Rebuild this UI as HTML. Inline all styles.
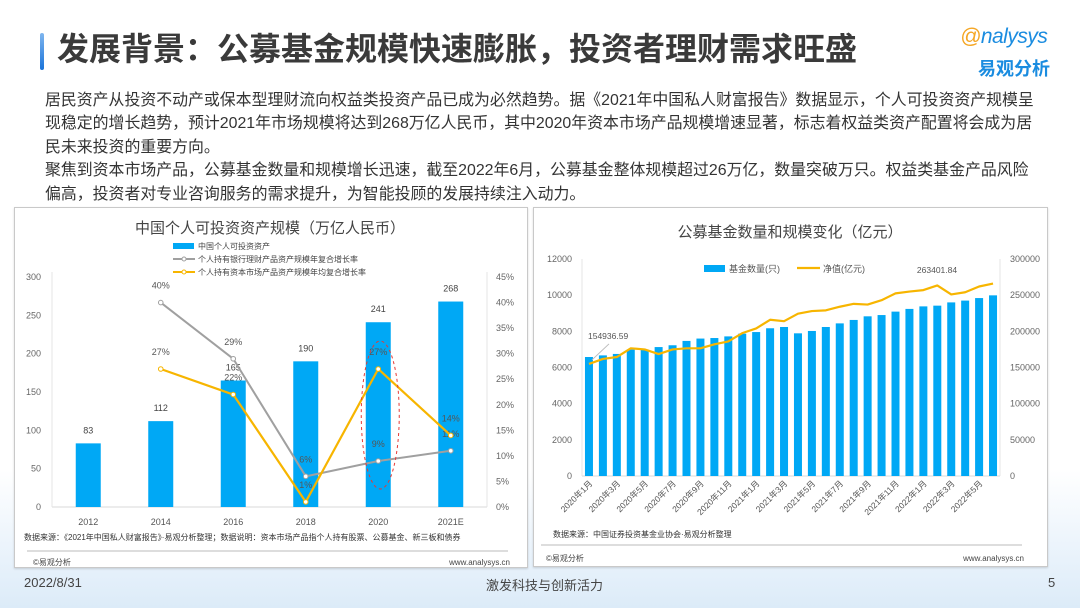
<!DOCTYPE html>
<html><head><meta charset="utf-8">
<style>
html,body{margin:0;padding:0}
body{width:1080px;height:608px;position:relative;overflow:hidden;background:linear-gradient(#fff 0,#fff 470px,#e8f2fb 560px,#dcebf8 608px);font-family:"Liberation Sans","Noto Sans CJK SC",sans-serif;color:#333}
.bar{position:absolute;left:40px;top:33px;width:4px;height:37px;border-radius:2px;background:linear-gradient(#7fb6ef,#1a73d9)}
.title{position:absolute;left:57px;top:30px;font-size:32px;line-height:38px;font-weight:bold;color:#3a3a3a;white-space:nowrap}
.logo1{position:absolute;left:960px;top:25px;font-size:21px;color:#1a8ce0;font-style:italic;letter-spacing:-0.5px}
.logo1 b{color:#f5a623;font-weight:normal}
.logo2{position:absolute;left:978px;top:55px;font-size:18px;color:#1a8ce0;font-weight:bold}
.para{position:absolute;left:45px;top:89px;width:1010px;font-size:15.9px;line-height:23.4px;color:#333;white-space:nowrap}
.panel{position:absolute;background:#fff;border:1px solid #c9c9c9;box-shadow:0 1px 2px rgba(0,0,0,.15)}
svg{position:absolute;left:0;top:0}
.foot{position:absolute;top:575px;font-size:13px;color:#444}
</style></head><body>
<div class="bar"></div>
<div class="title">发展背景：公募基金规模快速膨胀，投资者理财需求旺盛</div>
<div class="logo1"><b>@</b>nalysys</div>
<div class="logo2">易观分析</div>
<div class="para">居民资产从投资不动产或保本型理财流向权益类投资产品已成为必然趋势。据《2021年中国私人财富报告》数据显示，个人可投资资产规模呈<br>现稳定的增长趋势，预计2021年市场规模将达到268万亿人民币，其中2020年资本市场产品规模增速显著，标志着权益类资产配置将会成为居<br>民未来投资的重要方向。<br>聚焦到资本市场产品，公募基金数量和规模增长迅速，截至2022年6月，公募基金整体规模超过26万亿，数量突破万只。权益类基金产品风险<br>偏高，投资者对专业咨询服务的需求提升，为智能投顾的发展持续注入动力。</div>
<div class="panel" style="left:14px;top:207px;width:512px;height:359px"></div>
<div class="panel" style="left:533px;top:207px;width:513px;height:358px"></div>
<div class="foot" style="left:24px">2022/8/31</div>
<div class="foot" style="left:486px">激发科技与创新活力</div>
<div class="foot" style="left:1048px">5</div>
<svg id="chart" width="1080" height="608"></svg>
<script>
// Left chart data
const leftCats = ["2012","2014","2016","2018","2020","2021E"];
const leftAssets = [83,112,165,190,241,268];
const leftBank = [null,40,29,6,9,11];
const leftCapital = [null,27,22,1,27,14];
const leftYTicks = [0,50,100,150,200,250,300];
const leftY2Ticks = [0,5,10,15,20,25,30,35,40,45];
// Right chart data
const rightCats = ["2020年1月","2020年2月","2020年3月","2020年4月","2020年5月","2020年6月","2020年7月","2020年8月","2020年9月","2020年10月","2020年11月","2020年12月","2021年1月","2021年2月","2021年3月","2021年4月","2021年5月","2021年6月","2021年7月","2021年8月","2021年9月","2021年10月","2021年11月","2021年12月","2022年1月","2022年2月","2022年3月","2022年4月","2022年5月","2022年6月"];
const fundCount = [6580,6670,6750,6990,6990,7130,7230,7470,7600,7630,7720,7870,7960,8170,8240,7890,8020,8240,8440,8630,8830,8900,9090,9240,9380,9420,9600,9700,9840,9990];
const netValue = [154936.59,161800,164500,176500,175000,168600,175000,176500,176500,182000,186000,197500,204000,216000,214000,224400,228000,229000,234000,238000,237000,243000,252500,255000,257000,263401.84,251000,254000,262000,266000];
const rightYTicks = [0,2000,4000,6000,8000,10000,12000];
const rightY2Ticks = [0,50000,100000,150000,200000,250000,300000];

const svg=document.getElementById('chart');
const NS='http://www.w3.org/2000/svg';
function mk(tag,attrs,parent){const e=document.createElementNS(NS,tag);for(const k in attrs)e.setAttribute(k,attrs[k]);(parent||svg).appendChild(e);return e;}
function txt(s,x,y,size,fill,anchor,extra){const t=mk('text',Object.assign({x:x,y:y,'font-size':size,fill:fill,'text-anchor':anchor||'start','font-family':'"Liberation Sans","Noto Sans CJK SC",sans-serif'},extra||{}));t.textContent=s;return t;}

// ---------- LEFT CHART ----------
const L={x0:52,x1:487,y0:507,y1:277,max:300,max2:45};
const lx=i=>L.x0+(L.x1-L.x0)/leftCats.length*(i+0.5);
const ly=v=>L.y0-(v/L.max)*(L.y0-L.y1);
const ly2=v=>L.y0-(v/L.max2)*(L.y0-L.y1);
let t;
t=txt("中国个人可投资资产规模（万亿人民币）",270,233,15,'#444','middle');


let ax=mk('line',{x1:L.x0,y1:L.y0,x2:L.x1,y2:L.y0,stroke:'#d9d9d9'});


mk('line',{x1:L.x0,y1:L.y1-5,x2:L.x0,y2:L.y0,stroke:'#e5e5e5'});
mk('line',{x1:L.x1,y1:L.y1-5,x2:L.x1,y2:L.y0,stroke:'#e5e5e5'});
leftYTicks.forEach(v=>{const e=txt(v,41,ly(v)+3,9,'#666','end');

});
leftY2Ticks.forEach(v=>{const e=txt(v+'%',496,ly2(v)+3,9,'#666','start');

});
leftCats.forEach((c,i)=>{const e=txt(c,lx(i),525,9,'#555','middle');

});
leftAssets.forEach((v,i)=>{
 const r=mk('rect',{x:lx(i)-12.5,y:ly(v),width:25,height:L.y0-ly(v),fill:'#00a8f5'});
 
 
 const e=txt(v,lx(i),ly(v)-10,9,'#444','middle');
 
 
});
function lineSeries(arr,color,name,w){
 let d='';arr.forEach((v,i)=>{if(v==null)return;d+=(d?'L':'M')+lx(i)+' '+ly2(v);});
 const p=mk('path',{d:d,fill:'none',stroke:color,'stroke-width':w});
 
 
 arr.forEach((v,i)=>{if(v==null)return;
  const c=mk('circle',{cx:lx(i),cy:ly2(v),r:2.3,fill:'#fff',stroke:color,'stroke-width':1});
  
  
  const e=txt(v+'%',lx(i),ly2(v)-14,9,'#555','middle');
  
  
 });
}
lineSeries(leftBank,'#a0a0a0','bank-growth',2);
lineSeries(leftCapital,'#f7b500','capital-growth',2.2);
let el=mk('ellipse',{cx:lx(4)+2,cy:415,rx:19,ry:74,fill:'none',stroke:'#e53935','stroke-dasharray':'3,3','stroke-width':1});


// legend
mk('rect',{x:173,y:243,width:21,height:6,fill:'#00a8f5'});
t=txt("中国个人可投资资产",198,249,8,'#444');


mk('line',{x1:173,y1:259,x2:195,y2:259,stroke:'#a0a0a0','stroke-width':2});
mk('circle',{cx:184,cy:259,r:2,fill:'#fff',stroke:'#a0a0a0'});
t=txt("个人持有银行理财产品资产规模年复合增长率",198,262,8,'#444');


mk('line',{x1:173,y1:272,x2:195,y2:272,stroke:'#f7b500','stroke-width':2});
mk('circle',{cx:184,cy:272,r:2,fill:'#fff',stroke:'#f7b500'});
t=txt("个人持有资本市场产品资产规模年均复合增长率",198,275,8,'#444');


t=txt("数据来源：《2021年中国私人财富报告》·易观分析整理；数据说明：资本市场产品指个人持有股票、公募基金、新三板和债券",24,540,8,'#333');


mk('line',{x1:27,y1:551,x2:508,y2:551,stroke:'#bbb'});
t=txt("©易观分析",33,565,8,'#444');


t=txt("www.analysys.cn",510,565,8,'#444','end');



// ---------- RIGHT CHART ----------
const R={x0:582,x1:1000,y0:476,y1:259,max:12000,max2:300000};
const rx=i=>R.x0+(R.x1-R.x0)/rightCats.length*(i+0.5);
const ry=v=>R.y0-(v/R.max)*(R.y0-R.y1);
const ry2=v=>R.y0-(v/R.max2)*(R.y0-R.y1);
t=txt("公募基金数量和规模变化（亿元）",790,237,15,'#444','middle');


ax=mk('line',{x1:R.x0,y1:R.y0,x2:R.x1,y2:R.y0,stroke:'#d9d9d9'});


mk('line',{x1:R.x0,y1:R.y1,x2:R.x0,y2:R.y0,stroke:'#e5e5e5'});
mk('line',{x1:R.x1,y1:R.y1,x2:R.x1,y2:R.y0,stroke:'#e5e5e5'});
rightYTicks.forEach(v=>{const e=txt(v,572,ry(v)+3,9,'#666','end');

});
rightY2Ticks.forEach(v=>{const e=txt(v,1010,ry2(v)+3,9,'#666','start');

});
fundCount.forEach((v,i)=>{
 const r=mk('rect',{x:rx(i)-4,y:ry(v),width:8,height:R.y0-ry(v),fill:'#00a8f5'});
 
 
});
rightCats.forEach((c,i)=>{if(i%2)return;
 const e=txt(c,rx(i)+4,484,8.5,'#555','end',{transform:'rotate(-45 '+(rx(i)+4)+' 484)'});
 
 
});
let d='';netValue.forEach((v,i)=>{d+=(i?'L':'M')+rx(i)+' '+ry2(v);});
let p=mk('path',{d:d,fill:'none',stroke:'#f7b500','stroke-width':2.2,'stroke-linejoin':'round'});


const iMin=0,iMax=netValue.indexOf(Math.max(...netValue.slice(0,26)));
mk('line',{x1:rx(iMin)+3,y1:ry2(netValue[iMin])-4,x2:rx(iMin)+20,y2:ry2(netValue[iMin])-20,stroke:'#bbb'});
t=txt(String(netValue[iMin]),588,339,8.5,'#555');


t=txt(String(netValue[iMax]),937,273,8.5,'#555','middle');


// legend
mk('rect',{x:704,y:265,width:21,height:7,fill:'#00a8f5'});
t=txt("基金数量(只)",729,272,9,'#555');


mk('line',{x1:797,y1:268,x2:820,y2:268,stroke:'#f7b500','stroke-width':2.2});
t=txt("净值(亿元)",823,272,9,'#555');


t=txt("数据来源：中国证券投资基金业协会·易观分析整理",553,537,8,'#333');


mk('line',{x1:541,y1:545,x2:1022,y2:545,stroke:'#bbb'});
t=txt("©易观分析",546,561,8,'#444');


t=txt("www.analysys.cn",1024,561,8,'#444','end');


</script>
</body></html>
